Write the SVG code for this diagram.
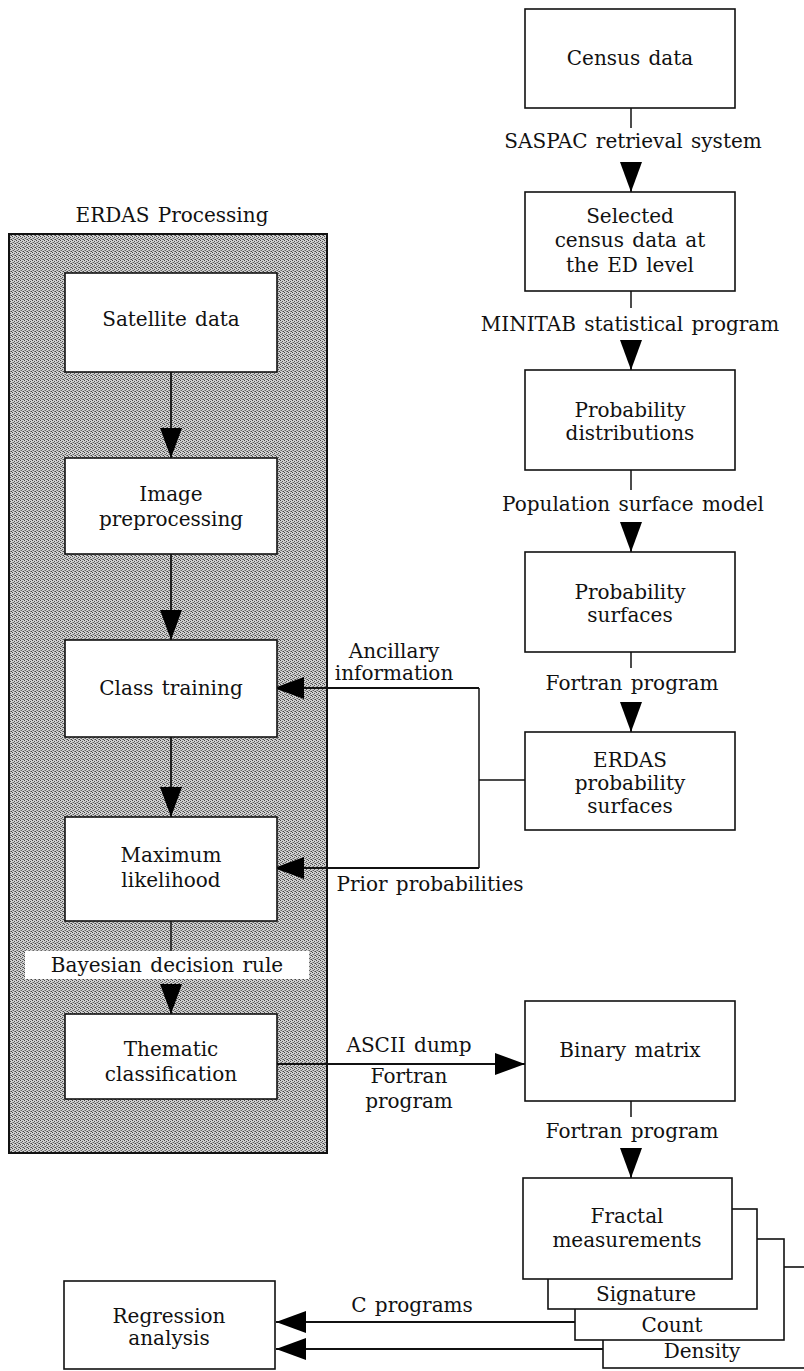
<svg xmlns="http://www.w3.org/2000/svg" width="804" height="1371" viewBox="0 0 804 1371">
<defs>
<pattern id="ht" width="4" height="4" patternUnits="userSpaceOnUse"><rect width="4" height="4" fill="#d0d0d0"/><rect x="0" y="0" width="1" height="1" fill="#444"/><rect x="2" y="1" width="1" height="1" fill="#555"/><rect x="1" y="2" width="1" height="1" fill="#666"/><rect x="3" y="3" width="1" height="1" fill="#444"/><rect x="2" y="3" width="1" height="1" fill="#888"/><rect x="0" y="2" width="1" height="1" fill="#999"/></pattern>
<marker id="ah" markerWidth="30" markerHeight="22" refX="30" refY="11" orient="auto" markerUnits="userSpaceOnUse"><path d="M0,0 L30,11 L0,22 z" fill="#000"/></marker>
<style>
text{font-family:"DejaVu Serif","Liberation Serif",serif;font-size:20px;fill:#111;text-anchor:middle;word-spacing:2px}
.box{fill:#fff;stroke:#111;stroke-width:1.6}
.ln{fill:none;stroke:#111;stroke-width:1.5}
.ar{fill:none;stroke:#111;stroke-width:1.8;marker-end:url(#ah)}
</style>
</defs>
<rect width="804" height="1371" fill="#fff"/>

<g id="erdas-panel">
<text x="172" y="222">ERDAS Processing</text>
<rect x="9" y="234" width="318" height="919" fill="url(#ht)" stroke="#111" stroke-width="2"/>
</g>

<g id="connectors">
<line class="ln" x1="631" y1="108" x2="631" y2="128"/>
<path class="ar" d="M631,162 L631,192"/>
<line class="ln" x1="631" y1="291" x2="631" y2="308"/>
<path class="ar" d="M631,340 L631,370"/>
<line class="ln" x1="631" y1="470" x2="631" y2="490"/>
<path class="ar" d="M631,522 L631,552"/>
<line class="ln" x1="631" y1="652" x2="631" y2="668"/>
<path class="ar" d="M631,702 L631,732"/>
<line class="ln" x1="631" y1="1101" x2="631" y2="1117"/>
<path class="ar" d="M631,1148 L631,1178"/>
<path class="ar" d="M171,372 L171,458"/>
<path class="ar" d="M171,554 L171,640"/>
<path class="ar" d="M171,737 L171,817"/>
<line class="ln" x1="171" y1="921" x2="171" y2="951"/>
<path class="ar" d="M171,984 L171,1014"/>
<path class="ln" d="M525,780 L479,780 M479,688 L479,868"/>
<path class="ar" d="M479,688 L274,688"/>
<path class="ar" d="M479,868 L274,868"/>
<path class="ar" d="M277,1064 L525,1064"/>
<path class="ar" d="M575,1322 L276,1322"/>
<path class="ar" d="M603,1349 L276,1349"/>
</g>

<g id="labels">
<text x="633" y="148">SASPAC retrieval system</text>
<text x="630" y="331">MINITAB statistical program</text>
<text x="633" y="511">Population surface model</text>
<text x="632" y="690">Fortran program</text>
<text x="394" y="658">Ancillary</text>
<text x="394" y="680">information</text>
<text x="430" y="891">Prior probabilities</text>
<rect x="25" y="951" width="284" height="28" fill="#fff"/>
<text x="167" y="972">Bayesian decision rule</text>
<text x="409" y="1052">ASCII dump</text>
<text x="409" y="1083">Fortran</text>
<text x="409" y="1108">program</text>
<text x="632" y="1138">Fortran program</text>
<text x="412" y="1312">C programs</text>
</g>

<g id="census-data"><rect class="box" x="525" y="9" width="210" height="99"/><text x="630" y="65">Census data</text></g>
<g id="selected-census"><rect class="box" x="525" y="192" width="210" height="99"/><text x="630" y="223">Selected</text><text x="630" y="247">census data at</text><text x="630" y="272">the ED level</text></g>
<g id="prob-distributions"><rect class="box" x="525" y="370" width="210" height="100"/><text x="630" y="417">Probability</text><text x="630" y="440">distributions</text></g>
<g id="prob-surfaces"><rect class="box" x="525" y="552" width="210" height="100"/><text x="630" y="599">Probability</text><text x="630" y="622">surfaces</text></g>
<g id="erdas-prob-surfaces"><rect class="box" x="525" y="732" width="210" height="98"/><text x="630" y="767">ERDAS</text><text x="630" y="790">probability</text><text x="630" y="813">surfaces</text></g>

<g id="satellite-data"><rect class="box" x="65" y="273" width="212" height="99"/><text x="171" y="326">Satellite data</text></g>
<g id="image-preprocessing"><rect class="box" x="65" y="458" width="212" height="96"/><text x="171" y="501">Image</text><text x="171" y="526">preprocessing</text></g>
<g id="class-training"><rect class="box" x="65" y="640" width="212" height="97"/><text x="171" y="695">Class training</text></g>
<g id="maximum-likelihood"><rect class="box" x="65" y="817" width="212" height="104"/><text x="171" y="862">Maximum</text><text x="171" y="887">likelihood</text></g>
<g id="thematic-classification"><rect class="box" x="65" y="1014" width="212" height="85"/><text x="171" y="1056">Thematic</text><text x="171" y="1081">classification</text></g>

<g id="binary-matrix"><rect class="box" x="525" y="1001" width="210" height="100"/><text x="630" y="1057">Binary matrix</text></g>

<g id="fractal-stack">
<rect class="box" x="603" y="1267" width="215" height="101"/><text x="702" y="1358">Density</text>
<rect class="box" x="575" y="1239" width="209" height="101"/><text x="672" y="1332">Count</text>
<rect class="box" x="548" y="1209" width="209" height="100"/><text x="646" y="1301">Signature</text>
<rect class="box" x="523" y="1178" width="209" height="101"/><text x="627" y="1223">Fractal</text><text x="627" y="1247">measurements</text>
</g>

<g id="regression-analysis"><rect class="box" x="64" y="1281" width="211" height="88"/><text x="169" y="1323">Regression</text><text x="169" y="1345">analysis</text></g>
</svg>
